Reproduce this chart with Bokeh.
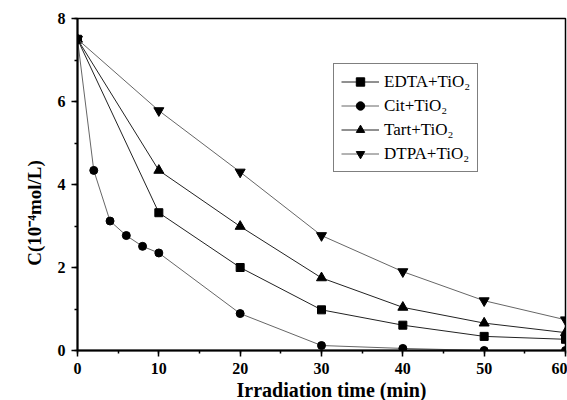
from bokeh.plotting import figure
from bokeh.models import Range1d, SingleIntervalTicker, Legend, LegendItem
from bokeh.embed import file_html
from bokeh.resources import INLINE

# Data
time_main = [0, 10, 20, 30, 40, 50, 60]
time_cit = [0, 2, 4, 6, 8, 10, 20, 30, 40, 50, 60]
edta = [7.5, 3.32, 2.0, 0.98, 0.61, 0.34, 0.27]
cit = [7.5, 4.34, 3.12, 2.77, 2.51, 2.35, 0.89, 0.12, 0.05, 0.0, 0.0]
tart = [7.5, 4.34, 2.99, 1.75, 1.04, 0.66, 0.43]
dtpa = [7.5, 5.78, 4.30, 2.77, 1.90, 1.20, 0.74]
labels = ["EDTA+TiO\u2082", "Cit+TiO\u2082", "Tart+TiO\u2082", "DTPA+TiO\u2082"]
x_title = "Irradiation time (min)"
y_title = "C(10\u207b\u2074mol/L)"

FONT = "Liberation Serif"
NB = "\u00a0"

p = figure(frame_width=488, frame_height=332, output_backend="svg", toolbar_location=None,
           x_range=Range1d(0, 60), y_range=Range1d(0, 8),
           min_border_left=77, min_border_right=2, min_border_top=18, min_border_bottom=50)
p.grid.visible = False
p.outline_line_color = "black"
p.outline_line_width = 1.5
p.background_fill_color = "white"
p.border_fill_color = "white"

p.xaxis.ticker = SingleIntervalTicker(interval=10, num_minor_ticks=2)
p.yaxis.ticker = SingleIntervalTicker(interval=2, num_minor_ticks=2)
for ax in (p.xaxis, p.yaxis):
    ax.axis_line_width = 2
    ax.major_tick_line_width = 1.5
    ax.minor_tick_line_width = 1.5
    ax.major_tick_out = 6
    ax.major_tick_in = 0
    ax.minor_tick_out = 3
    ax.minor_tick_in = 0
    ax.major_label_text_font = FONT
    ax.major_label_text_font_style = "bold"
    ax.major_label_text_font_size = "16px"
    ax.major_label_text_color = "black"
    ax.axis_label_text_font = FONT
    ax.axis_label_text_font_style = "bold"
    ax.axis_label_text_color = "black"
p.xaxis.major_label_standoff = 6
p.yaxis.major_label_standoff = 6
p.xaxis.axis_label = NB * 4 + x_title
p.xaxis.axis_label_text_font_size = "20px"
p.xaxis.axis_label_standoff = 2
p.yaxis.axis_label = y_title + NB * 12
p.yaxis.axis_label_text_font_size = "19px"
p.yaxis.axis_label_standoff = 10

series = [
    (time_main, edta, "square", 8, "#222222"),
    (time_cit, cit, "circle", 8, "#666666"),
    (time_main, tart, "triangle", 10, "#222222"),
    (time_main, dtpa, "inverted_triangle", 10, "#666666"),
]
items = []
for (xs, ys, mk, sz, lc), lab in zip(series, labels):
    l = p.line(xs, ys, line_color=lc, line_width=1)
    s = p.scatter(xs, ys, marker=mk, size=sz, fill_color="black", line_color="black")
    items.append(LegendItem(label=lab, renderers=[l, s]))

legend = Legend(items=items, location=(256, 178))
legend.label_text_font = FONT
legend.label_text_font_size = "17px"
legend.label_text_color = "black"
legend.border_line_color = "black"
legend.border_line_width = 1
legend.glyph_width = 38
legend.glyph_height = 21
legend.label_height = 21
legend.spacing = 3
legend.padding = 7
legend.margin = 0
legend.label_standoff = 5
p.add_layout(legend)

open("out.html", "w").write(file_html(p, INLINE))
